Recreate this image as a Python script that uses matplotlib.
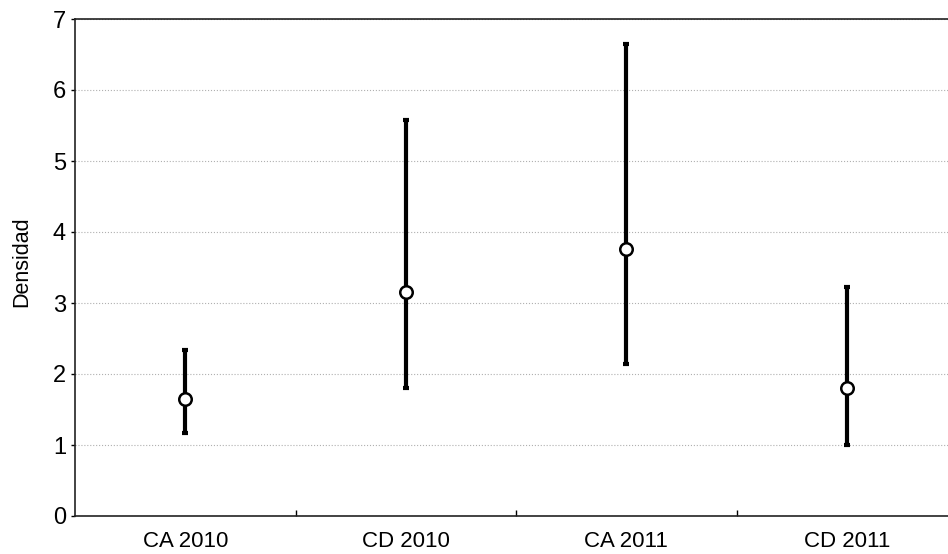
import numpy as np
import matplotlib
matplotlib.use("Agg")
import matplotlib.pyplot as plt

plt.rcParams["font.family"] = ["Liberation Sans", "DejaVu Sans"]

# ── data ───────────────────────────────────────────────────────────────────────
groups = ["CA 2010", "CD 2010", "CA 2011", "CD 2011"]
means  = [1.65, 3.16, 3.76, 1.80]
lower  = [1.17, 1.80, 2.14, 1.00]
upper  = [2.34, 5.58, 6.65, 3.22]

x = np.arange(len(groups))
err = [np.array(means) - np.array(lower), np.array(upper) - np.array(means)]

fig = plt.figure(figsize=(9.48, 5.54), dpi=100)
# axes deliberately runs slightly past the right edge, as in the original
ax = fig.add_axes([75 / 948, 38 / 554, 882 / 948, 497 / 554])

ax.errorbar(x, means, yerr=err, fmt="none", ecolor="black",
            elinewidth=3, capsize=2.2, capthick=3, zorder=3)
ax.plot(x, means, "o", markersize=9, markerfacecolor="white",
        markeredgecolor="black", markeredgewidth=1.8, zorder=4)

ax.set_xlim(-0.5, len(groups) - 0.5)
ax.set_ylim(0, 7)
ax.set_yticks(range(0, 8))
ax.tick_params(axis="y", labelsize=17, direction="out", length=3, width=1)

# boundary ticks (inward, unlabeled), labels at centers
ax.set_xticks(np.arange(len(groups) - 1) + 0.5)
ax.set_xticklabels([])
ax.tick_params(axis="x", which="major", direction="in", length=4, width=1)
ax.set_xticks(x, minor=True)
ax.set_xticklabels(groups, minor=True, fontsize=16)
ax.tick_params(axis="x", which="minor", length=0, pad=11)

ax.set_ylabel("Densidad", fontsize=15.5, labelpad=15)
ax.yaxis.label.set_y(0.512)

ax.grid(True, axis="y", which="major", color="#b0b0b0", linestyle=":",
        linewidth=0.8)
ax.set_axisbelow(True)
for s in ax.spines.values():
    s.set_linewidth(1.2)
    s.set_color("#222222")

fig.savefig("out.png", dpi=100)
